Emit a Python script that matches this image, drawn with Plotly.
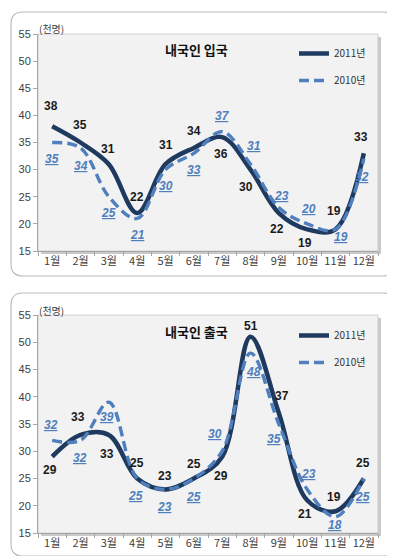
import plotly.graph_objects as go

W, H = 395, 556

months = ["1월", "2월", "3월", "4월", "5월", "6월", "7월", "8월", "9월", "10월", "11월", "12월"]
y_ticks = [15, 20, 25, 30, 35, 40, 45, 50, 55]

entry_2011 = [38, 35, 31, 22, 31, 34, 36, 30, 22, 19, 19, 33]
entry_2010 = [35, 34, 25, 21, 30, 33, 37, 31, 23, 20, 19, 32]
exit_2011 = [29, 33, 33, 25, 23, 25, 29, 51, 37, 21, 19, 25]
exit_2010 = [32, 32, 39, 25, 23, 25, 30, 48, 35, 23, 18, 25]

titles = ["내국인 입국", "내국인 출국"]
series_names = ["2011년", "2010년"]
unit_label = "(천명)"

# label offsets (dx, dy) in pixels, dy positive = up
off_entry_2011 = [(-1, 20), (-1, 18), (-1, 15), (0, 16), (0, 19), (0, 17), (-1, -17), (-5, -17), (-2, -16), (-2, -14), (-2, 18), (-3, 16)]
off_entry_2010 = [(0, -16), (0, -18), (0, -16), (0, -17), (0, -16), (0, -17), (0, 16), (3, 18), (3, 12), (1, 15), (5, -8), (-2, -18)]
off_exit_2011 = [(-2, -13), (-3, 18), (-2, -19), (0, 16), (-1, 13), (0, 15), (-1, -19), (0, 11), (3, 17), (-2, -14), (-2, 14), (-1, 16)]
off_exit_2010 = [(-1, 15), (-1, -18), (-2, -15), (-2, -17), (-1, -18), (0, -18), (-7, 17), (3, -19), (-5, -15), (1, 15), (-1, -8), (-1, -18)]

C2011 = "#1f3a5f"
C2010 = "#4f7fbd"
LABEL_FONT = "Liberation Sans, Arial, sans-serif"
KR_FONT = "Noto Sans CJK KR, sans-serif"


def X(px):
    return px / W


def Y(py):
    return 1 - py / H


plot_x = (30, 370)
panels = [
    dict(box=(3, 4, 387, 268), plot_y=(26, 243), legend_y=31, title_y=42, unit_y=20,
         data=(entry_2011, entry_2010), offs=(off_entry_2011, off_entry_2010)),
    dict(box=(3, 285, 387, 548), plot_y=(307, 525), legend_y=313, title_y=323, unit_y=302,
         data=(exit_2011, exit_2010), offs=(off_exit_2011, off_exit_2010)),
]

fig = go.Figure()
shapes = []
annotations = []


def rounded_rect(x0, y0, x1, y1, r):
    rx, ry = r / W, r / H
    a0, a1 = X(x0), X(x1)
    b0, b1 = Y(y0), Y(y1)  # b0 top (bigger), b1 bottom
    return (f"M {a0+rx},{b0} L {a1-rx},{b0} Q {a1},{b0} {a1},{b0-ry} "
            f"L {a1},{b1+ry} Q {a1},{b1} {a1-rx},{b1} L {a0+rx},{b1} "
            f"Q {a0},{b1} {a0},{b1+ry} L {a0},{b0-ry} Q {a0},{b0} {a0+rx},{b0} Z")


for i, p in enumerate(panels):
    xa = "x" if i == 0 else "x2"
    ya = "y" if i == 0 else "y2"
    leg = "legend" if i == 0 else "legend2"
    bx0, by0, bx1, by1 = p["box"]
    shapes.append(dict(type="path", xref="paper", yref="paper", path=rounded_rect(bx0, by0, bx1, by1, 12),
                       fillcolor="white", line=dict(color="#bcbcbc", width=1.2), layer="below"))
    py0, py1 = p["plot_y"]
    # shadow
    shapes.append(dict(type="rect", xref="paper", yref="paper", x0=X(plot_x[0] + 3), x1=X(plot_x[1] + 3),
                       y0=Y(py1 + 3), y1=Y(py0 + 3), fillcolor="#c9c9c9", line=dict(width=0), layer="below"))
    shapes.append(dict(type="rect", xref="paper", yref="paper", x0=X(plot_x[0]), x1=X(plot_x[1]),
                       y0=Y(py1), y1=Y(py0), fillcolor="#f2f2f2", line=dict(color="#d0d0d0", width=1), layer="below"))

    d11, d10 = p["data"]
    o11, o10 = p["offs"]
    fig.add_trace(go.Scatter(x=months, y=d11, mode="lines", name=series_names[0],
                             line=dict(color=C2011, width=4.5, shape="spline", smoothing=1.0),
                             xaxis=xa, yaxis=ya, legend=leg, legendgroup=f"a{i}", hoverinfo="skip"))
    fig.add_trace(go.Scatter(x=months, y=d10, mode="lines", name=series_names[1],
                             line=dict(color=C2010, width=3.4, shape="spline", smoothing=1.0, dash="10px,5px"),
                             xaxis=xa, yaxis=ya, legend=leg, legendgroup=f"b{i}", hoverinfo="skip"))

    for m, v, (dx, dy) in zip(months, d11, o11):
        annotations.append(dict(x=m, y=v, xref=xa, yref=ya, text=f"<b>{v}</b>", showarrow=False,
                                xshift=dx, yshift=dy, font=dict(family=LABEL_FONT, size=12, color="#1a1a1a")))
    for m, v, (dx, dy) in zip(months, d10, o10):
        annotations.append(dict(x=m, y=v, xref=xa, yref=ya, text=f"<u><i><b>{v}</b></i></u>", showarrow=False,
                                xshift=dx, yshift=dy, font=dict(family=LABEL_FONT, size=12, color=C2010)))

    annotations.append(dict(x=X(188), y=Y(p["title_y"]), xref="paper", yref="paper", text=f"<b>{titles[i]}</b>",
                            showarrow=False, xanchor="center", yanchor="middle",
                            font=dict(family=KR_FONT, size=13, color="#111111")))
    annotations.append(dict(x=X(29), y=Y(p["unit_y"]), xref="paper", yref="paper", text=unit_label,
                            showarrow=False, xanchor="left", yanchor="middle",
                            font=dict(family=KR_FONT, size=10, color="#404040")))

    dom_y = [Y(py1), Y(py0)]
    axis_common = dict(showline=True, linecolor="#a6a6a6", linewidth=1, ticks="outside", ticklen=4,
                       tickcolor="#a6a6a6", showgrid=False, zeroline=False, fixedrange=True)
    xkey = "xaxis" if i == 0 else "xaxis2"
    ykey = "yaxis" if i == 0 else "yaxis2"
    fig.update_layout({
        xkey: dict(axis_common, type="category", categoryorder="array", categoryarray=months,
                   range=[-0.5, 11.5], domain=[X(plot_x[0]), X(plot_x[1])], anchor=ya,
                   tickson="boundaries", tickangle=0,
                   tickfont=dict(family=KR_FONT, size=11, color="#404040")),
        ykey: dict(axis_common, range=[15, 55], tickvals=y_ticks, domain=dom_y, anchor=xa,
                   tickfont=dict(family=LABEL_FONT, size=11, color="#404040")),
        leg: dict(x=X(286), y=Y(p["legend_y"]), xanchor="left", yanchor="top", bgcolor="rgba(0,0,0,0)",
                  font=dict(family=KR_FONT, size=10, color="#333333"), tracegroupgap=8, traceorder="grouped",
                  itemwidth=30),
    })

fig.update_layout(width=W, height=H, margin=dict(l=0, r=0, t=0, b=0), template="none",
                  paper_bgcolor="white", plot_bgcolor="rgba(0,0,0,0)", shapes=shapes,
                  annotations=annotations, showlegend=True)

fig.write_html("out.html")
